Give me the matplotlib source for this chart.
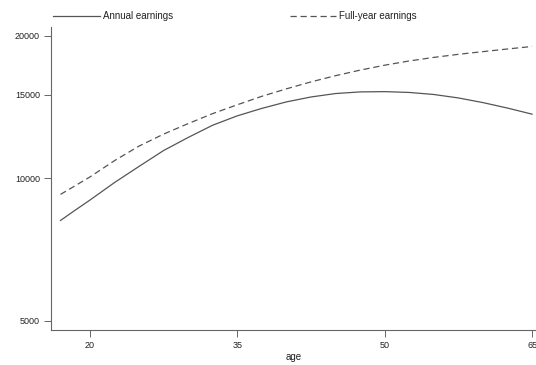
import matplotlib
matplotlib.use("Agg")
import matplotlib.pyplot as plt

# Values (earnings by age, log scale)
ages = [17, 18.5, 20, 22.5, 25, 27.5, 30, 32.5, 35, 37.5, 40, 42.5,
        45, 47.5, 50, 52.5, 55, 57.5, 60, 62.5, 65]
annual_earnings = [8150, 8570, 9000, 9800, 10600, 11450, 12200, 12950, 13550, 14050, 14500, 14850,
                   15100, 15220, 15240, 15180, 15030, 14780, 14450, 14070, 13660]
fullyear_earnings = [9250, 9650, 10070, 10900, 11700, 12400, 13050, 13700, 14300, 14900, 15450, 15980,
                     16470, 16920, 17330, 17690, 18000, 18270, 18510, 18750, 18980]

x_ticks = [20, 35, 50, 65]
y_ticks = [5000, 10000, 15000, 20000]

plt.rcParams['font.family'] = ['Liberation Sans', 'DejaVu Sans']

fig = plt.figure(figsize=(5.36, 3.65), dpi=100)
ax = fig.add_axes([51 / 536, 35 / 365, 485 / 536, 302.7 / 365])

line_color = '#555555'
ax.plot(ages, annual_earnings, color=line_color, lw=0.9, label='Annual earnings')
ax.plot(ages, fullyear_earnings, color=line_color, lw=0.9, ls=(0, (5, 3)), label='Full-year earnings')

ax.set_yscale('log')
ax.set_xlim(16.03, 65.4)
ax.set_ylim(4786, 20833)
ax.set_xticks(x_ticks)
ax.set_xticklabels([str(t) for t in x_ticks])
ax.set_yticks(y_ticks)
ax.set_yticklabels([str(t) for t in y_ticks])
ax.minorticks_off()

for side in ['top', 'right']:
    ax.spines[side].set_visible(False)
for side in ['left', 'bottom']:
    ax.spines[side].set_color('#666666')
    ax.spines[side].set_linewidth(0.8)

ax.tick_params(axis='both', direction='out', length=5, width=0.7, color='#666666',
               labelsize=6.5, labelcolor='#222222', pad=3)
ax.set_xlabel('age', fontsize=7, color='#222222', labelpad=1)

ax.legend(loc='lower left', bbox_to_anchor=(-0.003, 1.008), ncol=2, frameon=False,
          fontsize=7, handlelength=4.8, handletextpad=0.3, columnspacing=12.0,
          borderaxespad=0, labelcolor='#222222')

fig.savefig('out.png', dpi=100)
